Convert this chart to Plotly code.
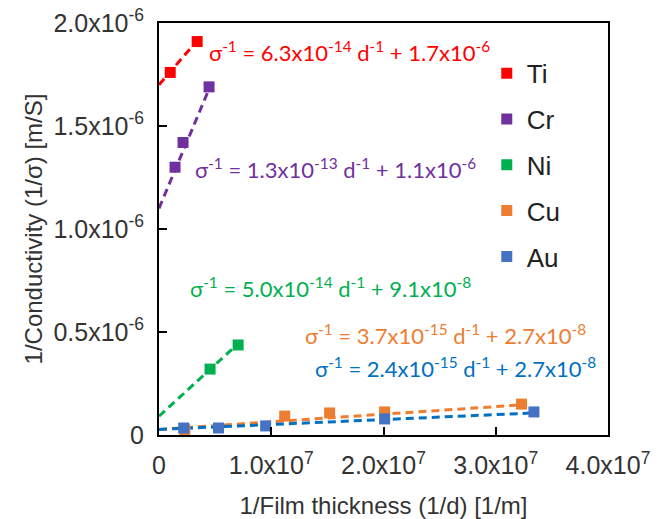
import plotly.graph_objects as go

# Measured points: inverse film thickness (1/m) vs inverse conductivity (m/S)
metals = ["Ti", "Cr", "Ni", "Cu", "Au"]

ti_x = [1.0e6, 3.4e6]
ti_y = [1.76e-6, 1.91e-6]

cr_x = [1.43e6, 2.14e6, 4.46e6]
cr_y = [1.30e-6, 1.42e-6, 1.69e-6]

ni_x = [4.55e6, 7.05e6]
ni_y = [0.32e-6, 0.437e-6]

cu_x = [2.3e6, 1.12e7, 1.52e7, 2.01e7, 3.23e7]
cu_y = [0.025e-6, 0.092e-6, 0.107e-6, 0.112e-6, 0.150e-6]

au_x = [2.2e6, 5.3e6, 9.5e6, 2.01e7, 3.34e7]
au_y = [0.034e-6, 0.034e-6, 0.044e-6, 0.078e-6, 0.112e-6]

# Linear fits: sigma^-1 = slope * d^-1 + intercept
slopes = [6.3e-14, 1.3e-13, 5.0e-14, 3.7e-15, 2.4e-15]
intercepts = [1.7e-6, 1.1e-6, 9.1e-8, 2.7e-8, 2.7e-8]
slope_txt = ["6.3x10<sup>-14</sup>", "1.3x10<sup>-13</sup>", "5.0x10<sup>-14</sup>",
             "3.7x10<sup>-15</sup>", "2.4x10<sup>-15</sup>"]
icpt_txt = ["1.7x10<sup>-6</sup>", "1.1x10<sup>-6</sup>", "9.1x10<sup>-8</sup>",
            "2.7x10<sup>-8</sup>", "2.7x10<sup>-8</sup>"]

x_ticks = [0, 1e7, 2e7, 3e7, 4e7]
x_tick_text = ["0", "1.0x10<sup>7</sup>", "2.0x10<sup>7</sup>", "3.0x10<sup>7</sup>", "4.0x10<sup>7</sup>"]
y_ticks = [0, 0.5e-6, 1.0e-6, 1.5e-6, 2.0e-6]
y_tick_text = ["0", "0.5x10<sup>-6</sup>", "1.0x10<sup>-6</sup>", "1.5x10<sup>-6</sup>", "2.0x10<sup>-6</sup>"]

xs = [ti_x, cr_x, ni_x, cu_x, au_x]
ys = [ti_y, cr_y, ni_y, cu_y, au_y]
marker_colors = ["#FF0000", "#7030A0", "#00B050", "#ED7D31", "#4472C4"]
line_colors = ["#FF0000", "#7030A0", "#00B050", "#ED7D31", "#0070C0"]
text_colors = ["#FF0000", "#7030A0", "#00B050", "#ED7D31", "#0070C0"]
# equation label anchor (left edge, vertical centre) in data units
eq_pos = [(4.3e6, 1.86e-6), (3.0e6, 1.296e-6), (2.6e6, 0.718e-6),
          (1.28e7, 0.49e-6), (1.37e7, 0.328e-6)]

fig = go.Figure()

for i, name in enumerate(metals):
    x_end = max(xs[i])
    fig.add_trace(go.Scatter(
        x=[0, x_end],
        y=[intercepts[i], slopes[i] * x_end + intercepts[i]],
        mode="lines",
        line=dict(color=line_colors[i], width=3, dash="8px,5px"),
        showlegend=False, hoverinfo="skip",
    ))

for i, name in enumerate(metals):
    fig.add_trace(go.Scatter(
        x=xs[i], y=ys[i], mode="markers", name=name,
        legendgroup=name,
        marker=dict(symbol="square", size=11, color=marker_colors[i]),
    ))

for i in range(len(metals)):
    fig.add_annotation(
        x=eq_pos[i][0], y=eq_pos[i][1], xref="x", yref="y",
        xanchor="left", yanchor="middle", showarrow=False,
        text=f"σ<sup>-1</sup> = {slope_txt[i]} d<sup>-1</sup> + {icpt_txt[i]}",
        font=dict(family="Lato", size=22, color=text_colors[i]),
    )

tick_font = dict(family="Arial, Liberation Sans", size=25, color="#333333")
title_font = dict(family="Arial, Liberation Sans", size=24, color="#333333")

fig.update_layout(
    width=668, height=519,
    margin=dict(l=159, r=60, t=23, b=84),
    paper_bgcolor="white", plot_bgcolor="white",
    showlegend=True,
    legend=dict(
        x=0.73, y=0.935, xanchor="left", yanchor="top",
        font=dict(family="Arial, Liberation Sans", size=26, color="#222222"),
        tracegroupgap=9, bgcolor="rgba(0,0,0,0)",
    ),
    xaxis=dict(
        range=[0, 4e7], tickvals=x_ticks, ticktext=x_tick_text,
        ticks="inside", ticklen=8, tickwidth=2, tickcolor="black",
        showline=True, linecolor="black", linewidth=2, mirror=True,
        showgrid=False, zeroline=False, tickfont=tick_font,
        ticklabelstandoff=7, automargin=False,
        title=dict(text="1/Film thickness (1/d) [1/m]", font=title_font, standoff=25),
    ),
    yaxis=dict(
        range=[0, 2e-6], tickvals=y_ticks, ticktext=y_tick_text,
        ticks="inside", ticklen=8, tickwidth=2, tickcolor="black",
        showline=True, linecolor="black", linewidth=2, mirror=True,
        showgrid=False, zeroline=False, tickfont=tick_font,
        ticklabelstandoff=8, automargin=False,
        title=dict(text="1/Conductivity (1/σ) [m/S]", font=title_font, standoff=4),
    ),
)

fig.write_html("out.html")
